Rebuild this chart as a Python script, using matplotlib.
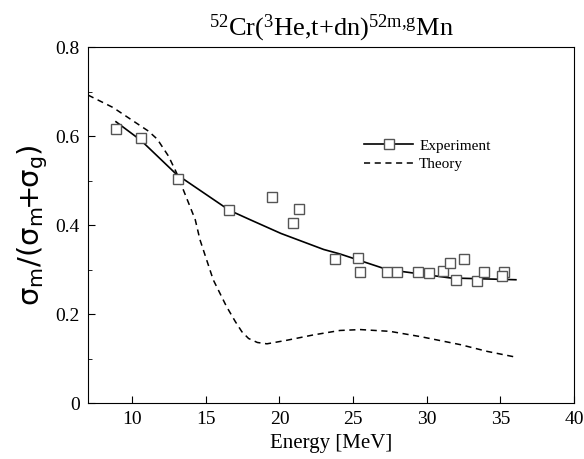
import numpy as np
import matplotlib as mpl
import matplotlib.pyplot as plt
from matplotlib.lines import Line2D

mpl.rc('font', family='Liberation Serif')
mpl.rc('mathtext', fontset='custom', rm='Liberation Serif', it='Liberation Serif')

# measured points
exp_e = [8.9, 10.6, 13.1, 16.6, 19.5, 21.3, 20.9, 23.75, 25.3, 25.5, 27.3, 28.0,
         29.4, 30.15, 31.1, 31.6, 32.55, 32.0, 33.4, 33.9, 35.25, 35.1]
exp_r = [0.615, 0.595, 0.503, 0.433, 0.464, 0.435, 0.405, 0.324, 0.326, 0.294, 0.294, 0.294,
         0.294, 0.292, 0.297, 0.315, 0.324, 0.276, 0.275, 0.294, 0.294, 0.285]

# fitted curve through experiment
fit_e = [8.9, 10.6, 13.0, 16.6, 18.0, 20.1, 23.0, 24.1, 27.3, 31.6, 36.05]
fit_r = [0.632, 0.59, 0.514, 0.433, 0.412, 0.381, 0.345, 0.335, 0.30, 0.281, 0.277]

# theory
th_e = [7.0, 8.7, 11.1, 11.7, 12.46, 13.0, 14.28, 14.6, 15.5, 16.4, 17.0, 17.45, 17.9, 18.5, 19.15,
        20.5, 22.3, 24.1, 25.5, 27.5, 29.6, 32.3, 34.1, 36.05]
th_r = [0.692, 0.664, 0.611, 0.593, 0.555, 0.518, 0.412, 0.367, 0.277, 0.217, 0.183, 0.160, 0.145,
        0.136, 0.133, 0.141, 0.153, 0.163, 0.165, 0.161, 0.149, 0.131, 0.116, 0.103]

fig = plt.figure(figsize=(5.84, 4.59), dpi=100)
ax = fig.add_axes([0.1507, 0.122, 0.8323, 0.7756])

ax.plot(fit_e, fit_r, color='black', lw=1.2)
ax.plot(th_e, th_r, color='black', lw=1.1, ls=(0, (4, 3)))
ax.plot(exp_e, exp_r, ls='none', marker='s', ms=7.5, mfc='white', mec='#555555', mew=1.0)

ax.set_xlim(7, 40)
ax.set_ylim(0, 0.8)
ax.set_xticks([10, 15, 20, 25, 30, 35, 40])
ax.set_yticks([0, 0.2, 0.4, 0.6, 0.8])
ax.set_yticklabels(['0', '0.2', '0.4', '0.6', '0.8'])
ax.set_yticks([0.1, 0.3, 0.5, 0.7], minor=True)
ax.tick_params(direction='in', length=5, width=0.8, labelsize=14, pad=6)
ax.tick_params(which='minor', direction='in', length=3, width=0.6)

ax.set_xlabel('Energy [MeV]', fontsize=15, labelpad=4)
ax.set_ylabel(r'$\mathsf{\sigma_m/(\sigma_m\!\!+\!\!\sigma_g)}$', fontsize=21, labelpad=4)
ax.set_title(r'$^{52}$Cr($^{3}$He,t+dn)$^{52m{,}g}$Mn', fontsize=19, pad=8)

handles = [Line2D([], [], color='black', lw=1.2, marker='s', ms=7.5, mfc='white', mec='#555555'),
           Line2D([], [], color='black', lw=1.1, ls=(0, (4, 3)))]
ax.legend(handles, ['Experiment', 'Theory'], loc='upper left', bbox_to_anchor=(0.54, 0.78),
          frameon=False, fontsize=11, handlelength=3.2, labelspacing=0.3, handletextpad=0.4)

plt.savefig('out.png')
